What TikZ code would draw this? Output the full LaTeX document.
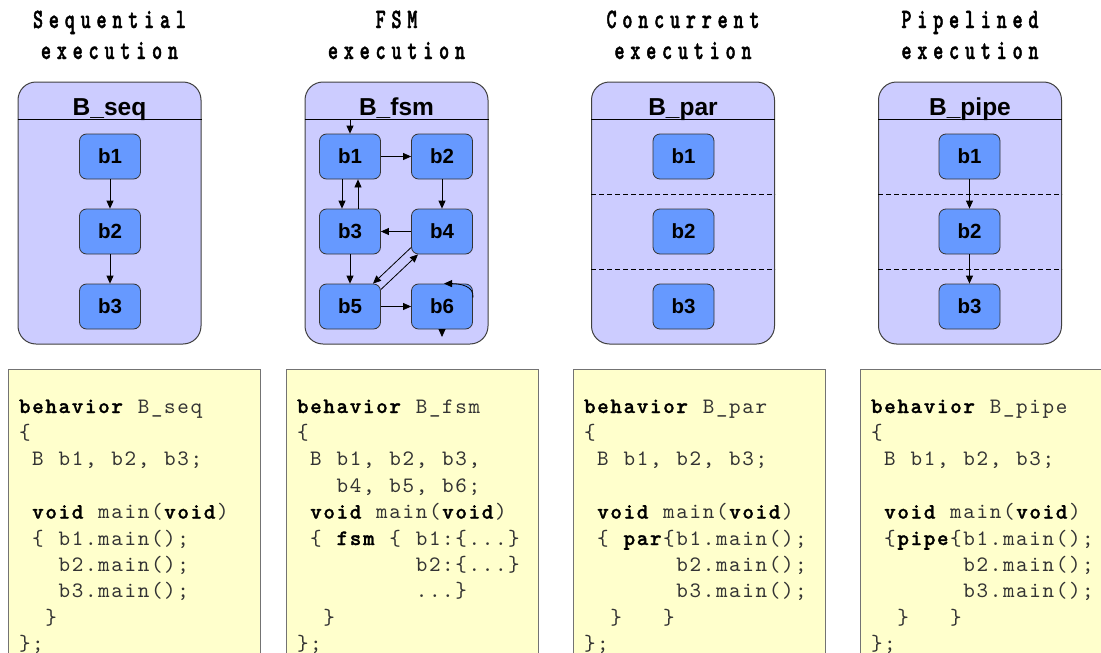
\documentclass[tikz,border=0pt]{standalone}
\usepackage{fontspec}
\setmainfont{Liberation Sans}
\newfontfamily\codefont{lmmono10-regular.otf}[BoldFont=lmmonolt10-bold.otf,BoldFeatures={FakeBold=1.3}]
\newfontfamily\titlefont{lmmonolt10-bold.otf}[FakeStretch=0.68,FakeBold=1.6,LetterSpace=21]
\usetikzlibrary{arrows.meta}
\definecolor{outerfill}{HTML}{CCCCFF}
\definecolor{blockfill}{HTML}{6699FF}
\definecolor{codefill}{HTML}{FFFFCC}
\newlength\cw \setlength\cw{13.2pt}
\newcommand\dt{.}
% monospaced cell typesetter: | = space, > = bold on, < = bold off
\def\monoend{\monoend}
\newcommand\mono[1]{\monoA#1\monoend}
\def\monoA#1{%
  \ifx#1\monoend \let\next\relax
  \else
    \ifx#1|\hbox to\cw{}%
    \else\ifx#1>\bfseries\color{black}%
    \else\ifx#1<\mdseries\color{black!80}%
    \else\hbox to\cw{\hss#1\hss}%
    \fi\fi\fi
    \let\next\monoA
  \fi\next}
\tikzset{
  outerbox/.style={draw=black!75, line width=1pt, fill=outerfill, rounded corners=18pt,
    minimum width=183pt, minimum height=262pt, inner sep=0pt},
  blk/.style={draw=black!80, line width=0.8pt, fill=blockfill, rounded corners=7pt,
    minimum width=61pt, minimum height=45pt, inner sep=0pt,
    font=\fontsize{20.5pt}{24pt}\selectfont\bfseries},
  hdr/.style={anchor=base, inner sep=0pt, font=\fontsize{24.5pt}{28pt}\selectfont\bfseries},
  ttl/.style={anchor=base, inner sep=0pt, font=\titlefont\fontsize{28pt}{30pt}\selectfont},
  codebox/.style={draw=black!55, line width=1pt, fill=codefill, anchor=north west,
    minimum width=252pt, minimum height=300pt, inner sep=0pt},
  codeln/.style={anchor=base west, inner sep=0pt, text=black!80,
    font=\codefont\fontsize{22pt}{24pt}\selectfont},
  arr/.style={-{Triangle[length=8pt,width=7pt]}, line width=0.8pt, draw=black},
  sep/.style={dashed, dash pattern=on 5pt off 3pt, line width=0.8pt, draw=black},
  hline/.style={line width=1pt, draw=black}
}
\begin{document}
\begin{tikzpicture}[x=1pt,y=-1pt]
\useasboundingbox (0,0) rectangle (1101,653);
\clip (0,0) rectangle (1101,653);

% titles
\node[ttl] (t1a) at (109.5,28) {Sequential};
\node[ttl] (t1b) at (109.5,59) {execution};
\node[ttl] (t2a) at (396.5,28) {FSM};
\node[ttl] (t2b) at (396.5,59) {execution};
\node[ttl] (t3a) at (683,28) {Concurrent};
\node[ttl] (t3b) at (683,59) {execution};
\node[ttl] (t4a) at (970,28) {Pipelined};
\node[ttl] (t4b) at (970,59) {execution};

% header line level
\coordinate (hl) at (0,119);
\coordinate (d1) at (0,194);
\coordinate (d2) at (0,269);

% ---------- sequential ----------
\node[outerbox] (Bseq) at (109.5,213) {};
\draw[hline] (Bseq.west |- hl) -- (Bseq.east |- hl);
\node[hdr] (hseq) at (109.5,115.5) {B\_seq};
\node[blk] (s1) at (110,156.5) {b1};
\node[blk] (s2) at (110,231.5) {b2};
\node[blk] (s3) at (110,306.5) {b3};
\draw[arr] (s1) -- (s2);
\draw[arr] (s2) -- (s3);

% ---------- FSM ----------
\node[outerbox] (Bfsm) at (396.5,213) {};
\draw[hline] (Bfsm.west |- hl) -- (Bfsm.east |- hl);
\node[hdr] (hfsm) at (396.5,115.5) {B\_fsm};
\node[blk] (f1) at (350,156.5) {b1};
\node[blk] (f2) at (442,156.5) {b2};
\node[blk] (f3) at (350,231.5) {b3};
\node[blk] (f4) at (442,231.5) {b4};
\node[blk] (f5) at (350,306.5) {b5};
\node[blk] (f6) at (442,306.5) {b6};
\coordinate (f0) at (350,120);
\coordinate (f7) at (442,337);
\draw[arr] (f0) -- (f1.north);
\draw[arr] (f1) -- (f2);
\draw[arr] ([xshift=-8pt]f1.south) -- ([xshift=-8pt]f3.north);
\draw[arr] ([xshift=8pt]f3.north) -- ([xshift=8pt]f1.south);
\draw[arr] (f2) -- (f4);
\draw[arr] (f4) -- (f3);
\draw[arr] (f3) -- (f5);
\draw[arr] ([yshift=-16pt]f4.west) -- ([xshift=23pt]f5.north);
\draw[arr] ([yshift=17pt]f5.east) -- ([xshift=-24pt]f4.south);
\draw[arr] (f5) -- (f6);
\draw[arr] ([yshift=9pt]f6.east) .. controls +(1.5,-11) and +(17,0) .. ([xshift=2pt]f6.north);
\draw[arr] (f6.south) -- (f7);

% ---------- concurrent ----------
\node[outerbox] (Bpar) at (683,213) {};
\draw[hline] (Bpar.west |- hl) -- (Bpar.east |- hl);
\node[hdr] (hpar) at (683,115.5) {B\_par};
\draw[sep] (Bpar.west |- d1) -- (Bpar.east |- d1);
\draw[sep] (Bpar.west |- d2) -- (Bpar.east |- d2);
\node[blk] (p1) at (683.5,156.5) {b1};
\node[blk] (p2) at (683.5,231.5) {b2};
\node[blk] (p3) at (683.5,306.5) {b3};

% ---------- pipelined ----------
\node[outerbox] (Bpipe) at (970,213) {};
\draw[hline] (Bpipe.west |- hl) -- (Bpipe.east |- hl);
\node[hdr] (hpipe) at (970,115.5) {B\_pipe};
\draw[sep] (Bpipe.west |- d1) -- (Bpipe.east |- d1);
\draw[sep] (Bpipe.west |- d2) -- (Bpipe.east |- d2);
\node[blk] (q1) at (969.5,156.5) {b1};
\node[blk] (q2) at (969.5,231.5) {b2};
\node[blk] (q3) at (969.5,306.5) {b3};
\draw[arr] (q1) -- (q2);
\draw[arr] (q2) -- (q3);

% ---------- code boxes ----------
\node[codebox] (c1) at (8,369) {};
\node[codebox] (c2) at (286,369) {};
\node[codebox] (c3) at (573,369) {};
\node[codebox] (c4) at (860,369) {};

\foreach \t [count=\i] in {
  {>behavior<|B\_seq},
  {\{},
  {|B|b1,|b2,|b3;},
  {},
  {|>void<|main(>void<)},
  {|\{|b1.main();},
  {|||b2.main();},
  {|||b3.main();},
  {||\}},
  {\};}}
  \node[codeln] (cs\i) at (18,{413+26.4*(\i-1)}) {\expandafter\mono\expandafter{\t}};

\foreach \t [count=\i] in {
  {>behavior<|B\_fsm},
  {\{},
  {|B|b1,|b2,|b3,},
  {|||b4,|b5,|b6;},
  {|>void<|main(>void<)},
  {|\{|>fsm<|\{|b1:\{\dt\dt\dt\}},
  {|||||||||b2:\{\dt\dt\dt\}},
  {|||||||||\dt\dt\dt\}},
  {||\}},
  {\};}}
  \node[codeln] (cf\i) at (296,{413+26.4*(\i-1)}) {\expandafter\mono\expandafter{\t}};

\foreach \t [count=\i] in {
  {>behavior<|B\_par},
  {\{},
  {|B|b1,|b2,|b3;},
  {},
  {|>void<|main(>void<)},
  {|\{|>par<\{b1.main();},
  {|||||||b2.main();},
  {|||||||b3.main();},
  {||\}|||\}},
  {\};}}
  \node[codeln] (cp\i) at (583,{413+26.4*(\i-1)}) {\expandafter\mono\expandafter{\t}};

\foreach \t [count=\i] in {
  {>behavior<|B\_pipe},
  {\{},
  {|B|b1,|b2,|b3;},
  {},
  {|>void<|main(>void<)},
  {|\{>pipe<\{b1.main();},
  {|||||||b2.main();},
  {|||||||b3.main();},
  {||\}|||\}},
  {\};}}
  \node[codeln] (cq\i) at (870,{413+26.4*(\i-1)}) {\expandafter\mono\expandafter{\t}};
\end{tikzpicture}
\end{document}
